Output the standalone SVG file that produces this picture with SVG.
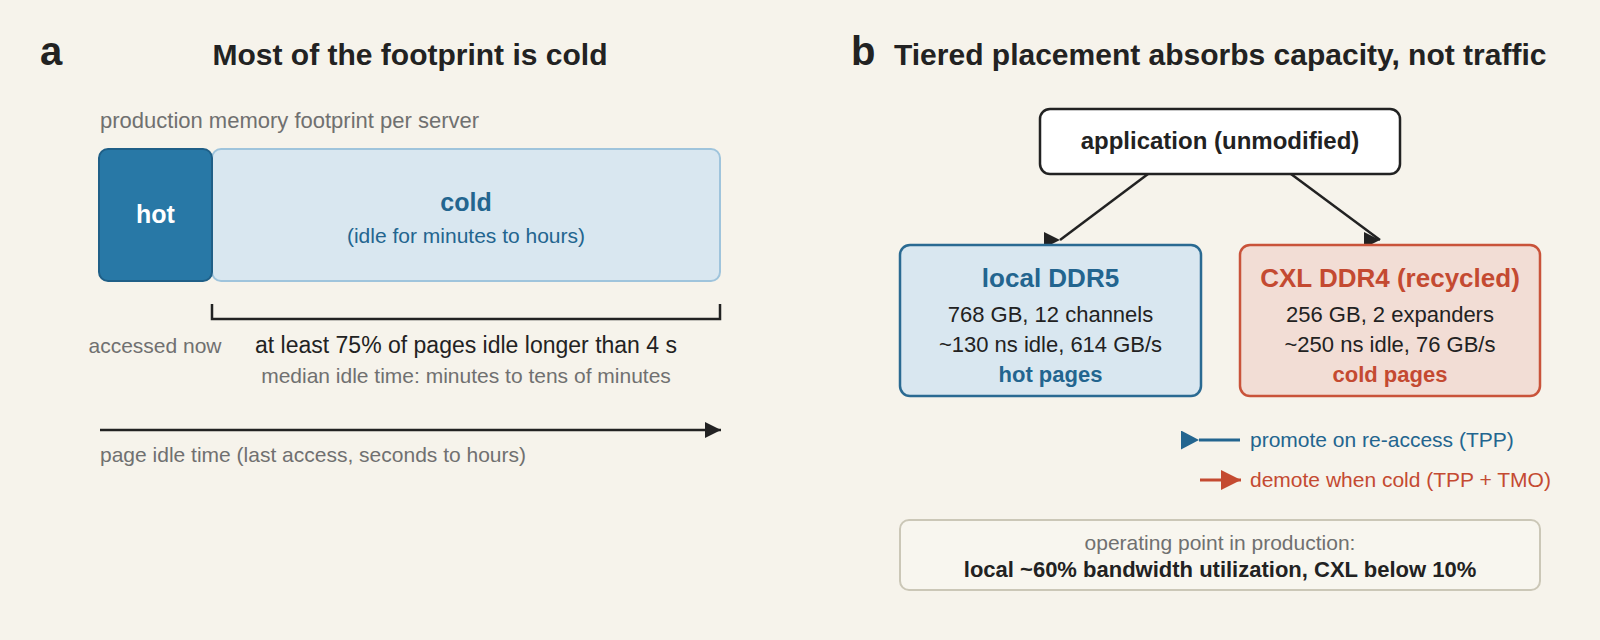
<svg xmlns="http://www.w3.org/2000/svg" width="1600" height="640" viewBox="0 0 1600 640">
<defs>
<style>
text{font-family:"Liberation Sans",Arial,sans-serif}
.panel{font-size:40px;font-weight:bold;fill:#222}
.title{font-size:30px;font-weight:bold;fill:#222}
.gray{font-size:21px;fill:#707070}
.dark{font-size:22px;fill:#222}
.blue{fill:#23658f}
.red{fill:#c44a31}
.b{font-weight:bold}
.conn{fill:none;stroke:#222;stroke-width:2.5}
</style>
<marker id="ah" markerUnits="userSpaceOnUse" markerWidth="16" markerHeight="16" refX="16" refY="8" viewBox="0 0 16 16">
<path d="M0,0 L16,8 L0,16 z" fill="#222"/>
</marker>
<marker id="ahBlue" markerUnits="userSpaceOnUse" markerWidth="18" markerHeight="19" refX="18" refY="9.5" viewBox="0 0 18 19">
<path d="M0,0 L18,9.5 L0,19 z" fill="#23658f"/>
</marker>
<marker id="ahRed" markerUnits="userSpaceOnUse" markerWidth="20" markerHeight="20" refX="20" refY="10" viewBox="0 0 20 20">
<path d="M0,0 L20,10 L0,20 z" fill="#c44a31"/>
</marker>
</defs>
<rect width="1600" height="640" fill="#f6f3eb"/>

<!-- Panel a -->
<g id="panel-a-header">
<text class="panel" x="40" y="65">a</text>
<text class="title" x="410" y="65" text-anchor="middle">Most of the footprint is cold</text>
<text class="gray" x="100" y="128" style="font-size:22px">production memory footprint per server</text>
</g>
<g id="cold">
<rect x="212" y="149" width="508" height="132" rx="9" fill="#d9e7f0" stroke="#9fc4dc" stroke-width="2"/>
<text x="466" y="211" text-anchor="middle" font-size="25" class="blue b">cold</text>
<text x="466" y="243" text-anchor="middle" font-size="21" class="blue">(idle for minutes to hours)</text>
</g>
<g id="hot">
<rect x="99" y="149" width="113" height="132" rx="9" fill="#2878a6" stroke="#1f5f87" stroke-width="2"/>
<text x="155.5" y="223" text-anchor="middle" font-size="25" font-weight="bold" fill="#fff">hot</text>
</g>
<g id="bracket">
<path class="conn" d="M212,304 V319 H720 V304"/>
<text class="gray" x="155" y="353" text-anchor="middle">accessed now</text>
<text x="466" y="353" text-anchor="middle" font-size="23" fill="#222">at least 75% of pages idle longer than 4 s</text>
<text class="gray" x="466" y="383" text-anchor="middle">median idle time: minutes to tens of minutes</text>
</g>
<g id="axis">
<line class="conn" x1="100" y1="430" x2="721" y2="430" marker-end="url(#ah)"/>
<text class="gray" x="100" y="462">page idle time (last access, seconds to hours)</text>
</g>

<!-- Panel b -->
<g id="panel-b-header">
<text class="panel" x="851" y="65">b</text>
<text class="title" x="894" y="65">Tiered placement absorbs capacity, not traffic</text>
</g>
<g id="connectors">
<line class="conn" x1="1148" y1="174" x2="1060" y2="240" stroke-width="2.2" marker-end="url(#ah)"/>
<line class="conn" x1="1291" y1="174" x2="1380" y2="240" stroke-width="2.2" marker-end="url(#ah)"/>
</g>
<g id="application">
<rect x="1040" y="109" width="360" height="65" rx="10" fill="#fff" stroke="#222" stroke-width="2.5"/>
<text x="1220" y="149" text-anchor="middle" font-size="24" font-weight="bold" fill="#222">application (unmodified)</text>
</g>
<g id="local-ddr5">
<rect x="900" y="245" width="301" height="151" rx="10" fill="#d9e7f0" stroke="#2a6a92" stroke-width="2.5"/>
<text x="1050.5" y="287" text-anchor="middle" font-size="26" class="blue b">local DDR5</text>
<text class="dark" x="1050.5" y="322" text-anchor="middle">768 GB, 12 channels</text>
<text class="dark" x="1050.5" y="352" text-anchor="middle">~130 ns idle, 614 GB/s</text>
<text x="1050.5" y="382" text-anchor="middle" font-size="22" class="blue b">hot pages</text>
</g>
<g id="cxl-ddr4">
<rect x="1240" y="245" width="300" height="151" rx="10" fill="#f2ddd5" stroke="#c9533a" stroke-width="2.5"/>
<text x="1390" y="287" text-anchor="middle" font-size="26" class="red b">CXL DDR4 (recycled)</text>
<text class="dark" x="1390" y="322" text-anchor="middle">256 GB, 2 expanders</text>
<text class="dark" x="1390" y="352" text-anchor="middle">~250 ns idle, 76 GB/s</text>
<text x="1390" y="382" text-anchor="middle" font-size="22" class="red b">cold pages</text>
</g>
<g id="legend">
<line x1="1199" y1="440" x2="1240" y2="440" stroke="#23658f" stroke-width="3" marker-start="url(#ahBlue)"/>
<text x="1250" y="447" font-size="21" class="blue">promote on re-access (TPP)</text>
<line x1="1200" y1="480" x2="1241" y2="480" stroke="#c44a31" stroke-width="3" marker-end="url(#ahRed)"/>
<text x="1250" y="487" font-size="21" class="red">demote when cold (TPP + TMO)</text>
</g>
<g id="operating-point">
<rect x="900" y="520" width="640" height="70" rx="9" fill="#f8f6ef" stroke="#cbc7b7" stroke-width="2"/>
<text class="gray" x="1220" y="550" text-anchor="middle">operating point in production:</text>
<text x="1220" y="577" text-anchor="middle" font-size="22" font-weight="bold" fill="#222">local ~60% bandwidth utilization, CXL below 10%</text>
</g>
</svg>
